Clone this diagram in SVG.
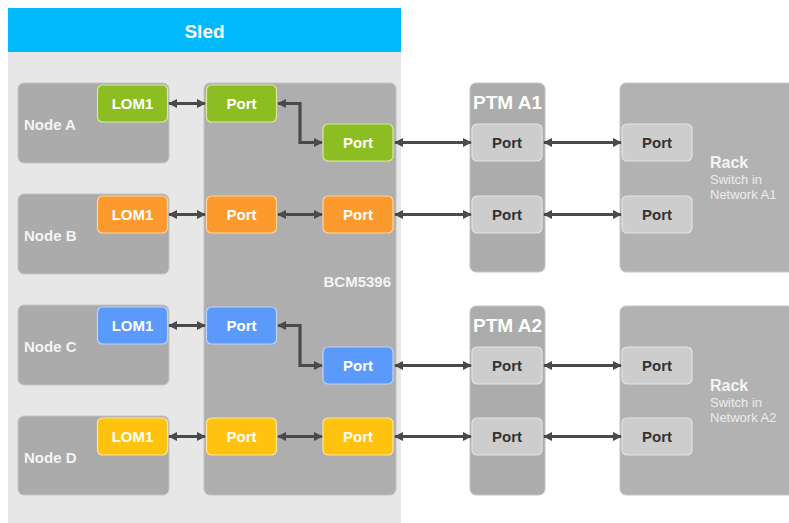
<svg xmlns="http://www.w3.org/2000/svg" width="789" height="523" viewBox="0 0 789 523">
<defs>
<style>
text{font-family:"Liberation Sans",Arial,sans-serif}
.b{font-weight:bold}
.node{fill:#ababab;stroke:#c4c4c4;stroke-width:1}
.chip{fill:#aeaeae;stroke:#c2c2c2;stroke-width:1}
.ptm{fill:#acacac;stroke:#c4c4c4;stroke-width:1}
.rack{fill:#b2b2b2;stroke:#c6c6c6;stroke-width:1}
.g{fill:#8cbd22;stroke:#d6ea9c;stroke-width:1.2}
.o{fill:#fd9a2e;stroke:#ffd39c;stroke-width:1.2}
.bl{fill:#5b99fb;stroke:#b9d3ff;stroke-width:1.2}
.y{fill:#ffc20e;stroke:#ffe49a;stroke-width:1.2}
.gp{fill:#cdcdcd;stroke:#e3e3e3;stroke-width:1.2}
.wt{fill:#ffffff;font-size:15px;font-weight:bold;text-anchor:middle}
.dt{fill:#333333;font-size:15px;font-weight:bold;text-anchor:middle}
.lbl{fill:#f4f4f4;font-size:15px;font-weight:bold}
.rk{fill:#f4f4f4;font-size:16px;font-weight:bold}
.sm{fill:#ececec;font-size:13px}
.ln{fill:none;stroke:#4a4a4a;stroke-width:3.2;marker-start:url(#ah);marker-end:url(#ah)}
</style>
<marker id="ah" viewBox="0 0 10 10" refX="9" refY="5" markerWidth="9" markerHeight="9" markerUnits="userSpaceOnUse" orient="auto-start-reverse">
<path d="M0,0 L10,5 L0,10 z" fill="#4a4a4a"/>
</marker>
</defs>
<rect x="0" y="0" width="789" height="523" fill="#ffffff"/>

<g id="sled">
<rect x="8" y="52" width="393" height="471" fill="#e7e7e7"/>
<rect x="8" y="8" width="393" height="44" fill="#00b9fb"/>
<text x="204.5" y="38" class="b" style="fill:#ffffff;font-size:19px;text-anchor:middle">Sled</text>
</g>

<g id="nodeA">
<rect class="node" x="18" y="83" width="151" height="80" rx="6"/>
<text class="lbl" x="24" y="130">Node A</text>
<rect class="g" x="97.5" y="85" width="70" height="37" rx="5"/>
<text class="wt" x="132.5" y="109">LOM1</text>
</g>
<g id="nodeB">
<rect class="node" x="18" y="194" width="151" height="80" rx="6"/>
<text class="lbl" x="24" y="241">Node B</text>
<rect class="o" x="97.5" y="196" width="70" height="37" rx="5"/>
<text class="wt" x="132.5" y="220">LOM1</text>
</g>
<g id="nodeC">
<rect class="node" x="18" y="305" width="151" height="80" rx="6"/>
<text class="lbl" x="24" y="352">Node C</text>
<rect class="bl" x="97.5" y="307" width="70" height="37" rx="5"/>
<text class="wt" x="132.5" y="331">LOM1</text>
</g>
<g id="nodeD">
<rect class="node" x="18" y="416" width="151" height="79" rx="6"/>
<text class="lbl" x="24" y="463">Node D</text>
<rect class="y" x="97.5" y="418" width="70" height="37" rx="5"/>
<text class="wt" x="132.5" y="442">LOM1</text>
</g>

<g id="bcm5396">
<rect class="chip" x="204" y="83" width="192" height="412" rx="6"/>
<text x="391" y="287" class="b" style="fill:#f4f4f4;font-size:15px;text-anchor:end">BCM5396</text>
<rect class="g" x="206.5" y="85" width="70" height="37" rx="5"/>
<text class="wt" x="241.5" y="109">Port</text>
<rect class="g" x="323" y="124" width="70" height="37" rx="5"/>
<text class="wt" x="358" y="148">Port</text>
<rect class="o" x="206.5" y="196" width="70" height="37" rx="5"/>
<text class="wt" x="241.5" y="220">Port</text>
<rect class="o" x="323" y="196" width="70" height="37" rx="5"/>
<text class="wt" x="358" y="220">Port</text>
<rect class="bl" x="206.5" y="307" width="70" height="37" rx="5"/>
<text class="wt" x="241.5" y="331">Port</text>
<rect class="bl" x="323" y="347" width="70" height="37" rx="5"/>
<text class="wt" x="358" y="371">Port</text>
<rect class="y" x="206.5" y="418" width="70" height="37" rx="5"/>
<text class="wt" x="241.5" y="442">Port</text>
<rect class="y" x="323" y="418" width="70" height="37" rx="5"/>
<text class="wt" x="358" y="442">Port</text>
</g>

<g id="ptmA1">
<rect class="ptm" x="470" y="83" width="75" height="189" rx="6"/>
<text x="507.5" y="109" class="b" style="fill:#ffffff;font-size:19px;text-anchor:middle">PTM A1</text>
<rect class="gp" x="472" y="124" width="70" height="37" rx="5"/>
<text class="dt" x="507" y="148">Port</text>
<rect class="gp" x="472" y="196" width="70" height="37" rx="5"/>
<text class="dt" x="507" y="220">Port</text>
</g>
<g id="ptmA2">
<rect class="ptm" x="470" y="306" width="75" height="189" rx="6"/>
<text x="507.5" y="332" class="b" style="fill:#ffffff;font-size:19px;text-anchor:middle">PTM A2</text>
<rect class="gp" x="472" y="347" width="70" height="37" rx="5"/>
<text class="dt" x="507" y="371">Port</text>
<rect class="gp" x="472" y="418" width="70" height="37" rx="5"/>
<text class="dt" x="507" y="442">Port</text>
</g>

<g id="rackA1">
<rect class="rack" x="620" y="83" width="180" height="189" rx="6"/>
<rect class="gp" x="622" y="124" width="70" height="37" rx="5"/>
<text class="dt" x="657" y="148">Port</text>
<rect class="gp" x="622" y="196" width="70" height="37" rx="5"/>
<text class="dt" x="657" y="220">Port</text>
<text class="rk" x="710" y="168">Rack</text>
<text class="sm" x="710" y="184">Switch in</text>
<text class="sm" x="710" y="199">Network A1</text>
</g>
<g id="rackA2">
<rect class="rack" x="620" y="306" width="180" height="189" rx="6"/>
<rect class="gp" x="622" y="347" width="70" height="37" rx="5"/>
<text class="dt" x="657" y="371">Port</text>
<rect class="gp" x="622" y="418" width="70" height="37" rx="5"/>
<text class="dt" x="657" y="442">Port</text>
<text class="rk" x="710" y="391">Rack</text>
<text class="sm" x="710" y="407">Switch in</text>
<text class="sm" x="710" y="422">Network A2</text>
</g>

<g id="connectors">
<path class="ln" d="M169,103.5 H205"/>
<path class="ln" d="M278,103.5 H300 V142.5 H322"/>
<path class="ln" d="M395,142.5 H471"/>
<path class="ln" d="M544,142.5 H621"/>
<path class="ln" d="M169,214.5 H205"/>
<path class="ln" d="M278,214.5 H322"/>
<path class="ln" d="M395,214.5 H471"/>
<path class="ln" d="M544,214.5 H621"/>
<path class="ln" d="M169,325.5 H205"/>
<path class="ln" d="M278,325.5 H300 V365.5 H322"/>
<path class="ln" d="M395,365.5 H471"/>
<path class="ln" d="M544,365.5 H621"/>
<path class="ln" d="M169,436.5 H205"/>
<path class="ln" d="M278,436.5 H322"/>
<path class="ln" d="M395,436.5 H471"/>
<path class="ln" d="M544,436.5 H621"/>
</g>
</svg>
